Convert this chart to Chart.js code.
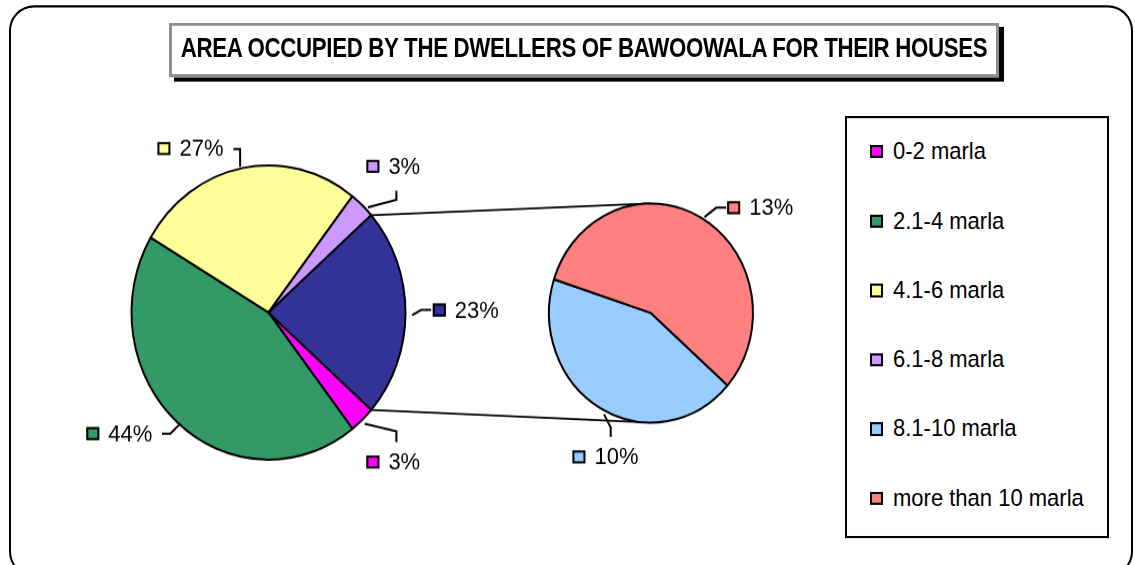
<!DOCTYPE html>
<html>
<head>
<meta charset="utf-8">
<script src="https://cdn.jsdelivr.net/npm/chart.js@4.4.1/dist/chart.umd.min.js"></script>
<style>
html,body{margin:0;padding:0;background:#fff;overflow:hidden;width:1135px;height:565px;}
#stage{position:absolute;left:0;top:0;width:1135px;height:526px;transform:scaleY(1.0741);transform-origin:0 0;font-family:"Liberation Sans",Arial,sans-serif;}
#frame{position:absolute;left:9px;top:4.7px;width:1124px;height:532px;box-sizing:border-box;border:2px solid #000;border-radius:25px/23.3px;}
canvas{position:absolute;left:0;top:0;}
#title{position:absolute;left:169px;top:21px;width:830px;height:50.7px;box-sizing:border-box;border:3px solid #8f8f8f;box-shadow:5px 4px 0 0 #000;background:#fff;color:#000;white-space:nowrap;}
#title span{position:absolute;left:50%;top:0;font-weight:bold;font-size:25px;line-height:40px;letter-spacing:-0.4px;white-space:nowrap;transform:translateX(-50%) scaleX(0.893);transform-origin:50% 50%;}
#legend{position:absolute;left:845px;top:108px;width:264px;height:393px;box-sizing:border-box;border:2px solid #000;background:#fff;}
.item{position:absolute;left:23px;height:24px;display:flex;align-items:center;font-size:22px;line-height:24px;color:#000;white-space:nowrap;}
.sw{box-sizing:border-box;width:13px;height:12.5px;border:2px solid #000;margin-right:10px;}
</style>
</head>
<body>
<div id="stage">
  <div id="frame"></div>
  <canvas id="c1" width="1135" height="526"></canvas>
  <canvas id="c2" width="1135" height="526"></canvas>
  <div id="title"><span id="titleText"></span></div>
  <div id="legend"></div>
</div>
<script>
// ---- data ----
const titleText = 'AREA OCCUPIED BY THE DWELLERS OF BAWOOWALA FOR THEIR HOUSES';
const categories = ['0-2 marla', '2.1-4 marla', '4.1-6 marla', '6.1-8 marla', '8.1-10 marla', 'more than 10 marla'];
const shares = [3, 44, 27, 3, 10, 13];
const colors = ['#FF00FF', '#339966', '#FFFF99', '#CC99FF', '#99CCFF', '#FF8080'];
const otherColor = '#333399';
const mainCount = 4;            // first four categories in the main pie, rest go to the second pie

// ---- derived ----
const mainLabels = categories.slice(0, mainCount).concat(['Other']);
const secLabels = categories.slice(mainCount);
const secValues = shares.slice(mainCount);
const otherTotal = secValues.reduce((a, b) => a + b, 0);
const mainValues = shares.slice(0, mainCount).concat([otherTotal]);
const mainColors = colors.slice(0, mainCount).concat([otherColor]);
const secColors = colors.slice(mainCount);

// ---- layout ----
const S = 1.0741, W = 1135, H = 526;
const FONT = '22px "Liberation Sans", Arial, sans-serif';
function pad(cx, cyRef, half) {
  const cy = cyRef / S;
  return {left: cx - half, right: W - cx - half, top: cy - half, bottom: H - cy - half};
}
// label placements: offsets (reference px) from the slice's mid-angle rim point
const mainPlacements = [
  {lead: [[2.4, 3.9], [34.1, 11.6], [34.1, 22.2]], box: [4.1, 42.2]},
  {lead: [[2.4, 0.7], [-7.6, 10.7], [-15.9, 10.7]], box: [-91.6, 10.7]},
  {lead: [[-2.7, -1.1], [-2.7, -18.8], [-9.4, -18.8]], box: [-85.4, -19.4]},
  {lead: [[5.7, 2.1], [34.1, -5.6], [34.1, -14.6]], box: [4.1, -38.9]},
  {lead: [[6.7, 2.5], [15.7, -2.5], [25.7, -2.5]], box: [27.3, -2.5]}
];
const secPlacements = [
  {lead: [[3.5, 6], [10.2, 19.3], [10.2, 28.7]], box: [-28.1, 48.7]},
  {lead: [[3, -0.7], [14.7, -10.1], [24.7, -10.1]], box: [25.7, -10.1]}
];

document.getElementById('titleText').textContent = titleText;
const legendEl = document.getElementById('legend');
categories.forEach((c, i) => {
  const row = document.createElement('div');
  row.className = 'item';
  row.style.top = (141.2 + i * 64.55 - 110 - 12) + 'px';
  const sw = document.createElement('span');
  sw.className = 'sw';
  sw.style.background = colors[i];
  const tx = document.createElement('span');
  tx.textContent = c;
  row.appendChild(sw); row.appendChild(tx);
  legendEl.appendChild(row);
});

const labelPlugin = {
  id: 'pieLabels',
  afterDatasetsDraw(chart, args, opts) {
    const meta = chart.getDatasetMeta(0);
    const ds = chart.data.datasets[0];
    const ctx = chart.ctx;
    ctx.save();
    meta.data.forEach((arc, i) => {
      const p = opts.placements[i];
      const a = arc.getProps(['x', 'y', 'outerRadius', 'startAngle', 'endAngle'], true);
      const mid = (a.startAngle + a.endAngle) / 2;
      const ex = a.x + a.outerRadius * Math.cos(mid);
      const ey = a.y + a.outerRadius * Math.sin(mid);
      ctx.beginPath();
      p.lead.forEach(([dx, dy], k) => {
        const px = ex + dx, py = ey + dy / S;
        if (k) ctx.lineTo(px, py); else ctx.moveTo(px, py);
      });
      ctx.lineWidth = 2;
      ctx.strokeStyle = '#000';
      ctx.lineJoin = 'miter';
      ctx.stroke();
      const bx = ex + p.box[0], by = ey + p.box[1] / S;
      const h = 13 / S;
      ctx.fillStyle = ds.backgroundColor[i];
      ctx.fillRect(bx, by - h / 2, 13, h);
      ctx.lineWidth = 2;
      ctx.strokeRect(bx + 1, by - h / 2 + 1, 11, h - 2);
      ctx.fillStyle = '#000';
      ctx.font = FONT;
      ctx.textBaseline = 'middle';
      ctx.textAlign = 'left';
      ctx.fillText(ds.data[i] + '%', bx + 22, by + 1);
    });
    ctx.restore();
  }
};

let mainChart = null;
const connectorPlugin = {
  id: 'connectors',
  beforeDatasetsDraw(chart) {
    if (!mainChart) return;
    const mm = mainChart.getDatasetMeta(0);
    const other = mm.data[mm.data.length - 1].getProps(['x', 'y', 'outerRadius', 'startAngle', 'endAngle'], true);
    const sec = chart.getDatasetMeta(0).data[0].getProps(['x', 'y', 'outerRadius'], true);
    const ctx = chart.ctx;
    ctx.save();
    ctx.beginPath();
    ctx.moveTo(other.x + other.outerRadius * Math.cos(other.startAngle), other.y + other.outerRadius * Math.sin(other.startAngle));
    ctx.lineTo(sec.x, sec.y - sec.outerRadius);
    ctx.moveTo(other.x + other.outerRadius * Math.cos(other.endAngle), other.y + other.outerRadius * Math.sin(other.endAngle));
    ctx.lineTo(sec.x, sec.y + sec.outerRadius);
    ctx.lineWidth = 1.8;
    ctx.strokeStyle = '#000';
    ctx.stroke();
    ctx.restore();
  }
};

const rot = 90 + otherTotal * 1.8;   // "Other" slice centred on the right side

mainChart = new Chart(document.getElementById('c1'), {
  type: 'pie',
  data: {
    labels: mainLabels,
    datasets: [{data: mainValues, backgroundColor: mainColors, borderColor: '#000', borderWidth: 2, radius: 137}]
  },
  options: {
    responsive: false, animation: false, events: [],
    rotation: rot,
    layout: {padding: pad(268.5, 312.5, 145)},
    plugins: {legend: {display: false}, tooltip: {enabled: false}, title: {display: false},
      pieLabels: {placements: mainPlacements}}
  },
  plugins: [labelPlugin]
});

new Chart(document.getElementById('c2'), {
  type: 'pie',
  data: {
    labels: secLabels,
    datasets: [{data: secValues, backgroundColor: secColors, borderColor: '#000', borderWidth: 2, radius: 102}]
  },
  options: {
    responsive: false, animation: false, events: [],
    rotation: rot,
    layout: {padding: pad(651, 313, 110)},
    plugins: {legend: {display: false}, tooltip: {enabled: false}, title: {display: false},
      pieLabels: {placements: secPlacements}, connectors: {}}
  },
  plugins: [connectorPlugin, labelPlugin]
});
</script>
</body>
</html>
